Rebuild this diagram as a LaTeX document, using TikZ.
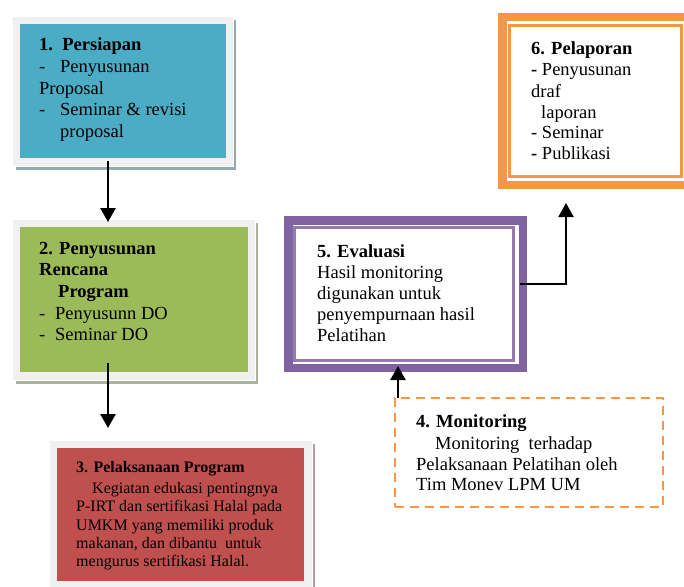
\documentclass[tikz,border=0pt]{standalone}
\usepackage{fontspec}
\setmainfont{Liberation Serif}
\usetikzlibrary{arrows.meta,calc}
\definecolor{cblue}{HTML}{4BACC6}
\definecolor{cgreen}{HTML}{9BBB59}
\definecolor{cred}{HTML}{C0504D}
\definecolor{cpurple}{HTML}{8064A2}
\definecolor{corange}{HTML}{F79646}
\definecolor{cframe}{HTML}{F0F0F0}
\definecolor{shblue}{HTML}{93AAB3}
\definecolor{shgreen}{HTML}{A9B49A}
\definecolor{shred}{HTML}{B49BA0}
\begin{document}
\begin{tikzpicture}[x=1pt,y=-1pt,
  frame/.style={draw=white, line width=0.8pt, fill=cframe, rectangle, inner sep=0pt, outer sep=0pt, anchor=north west},
  plain/.style={rectangle, inner sep=0pt, outer sep=0pt, anchor=north west},
  big/.style={anchor=base west, inner sep=0pt, font=\fontsize{18.5}{21}\selectfont},
  small/.style={anchor=base west, inner sep=0pt, font=\fontsize{16}{18.5}\selectfont},
  arr/.style={line width=2.5pt, -{Triangle[width=15pt,length=14pt]}},
  conn/.style={line width=2pt, -{Triangle[width=15pt,length=14pt]}}
]
\useasboundingbox (0,0) rectangle (684,586);

% ---- Box 1 ----
\fill[shblue] (16,20) rectangle (236,170);
\node[frame, minimum width=221pt, minimum height=150pt] (b1) at (12,16) {};
\fill[cblue] (20,24) rectangle (226,158);
\node[big] (t1a) at (39,51) {\textbf{1.\ \ Persiapan}};
\node[big] (t1b) at (39,72.5) {\makebox[21pt][l]{-}Penyusunan};
\node[big] (t1c) at (39,94) {Proposal};
\node[big] (t1d) at (39,115.5) {\makebox[21pt][l]{-}Seminar \& revisi};
\node[big] (t1e) at (60,137) {proposal};

% ---- Box 2 ----
\fill[shgreen] (16,223) rectangle (258,384);
\node[frame, minimum width=243pt, minimum height=161pt] (b2) at (12,219) {};
\fill[cgreen] (20,227) rectangle (248,372);
\node[big] (t2a) at (39,254) {\textbf{2. Penyusunan}};
\node[big] (t2b) at (39,275) {\textbf{Rencana}};
\node[big] (t2c) at (58,297) {\textbf{Program}};
\node[big] (t2d) at (39,319) {\makebox[16pt][l]{-}Penyusunn DO};
\node[big] (t2e) at (39,340) {\makebox[16pt][l]{-}Seminar DO};

% ---- Box 3 ----
\fill[shred] (53,444) rectangle (315,590);
\node[frame, minimum width=263pt, minimum height=150pt] (b3) at (49,440) {};
\fill[cred] (57,448) rectangle (304,581);
\node[small] (t3a) at (76,472.5) {\textbf{3. Pelaksanaan Program}};
\node[small] (t3b) at (92,493) {Kegiatan edukasi pentingnya};
\node[small] (t3c) at (76,511.5) {P-IRT dan sertifikasi Halal pada};
\node[small] (t3d) at (76,530) {UMKM yang memiliki produk};
\node[small] (t3e) at (76,548) {makanan, dan dibantu\ \ untuk};
\node[small] (t3f) at (76,566) {mengurus sertifikasi Halal.};

% ---- Box 5 ----
\node[plain, fill=white, minimum width=243pt, minimum height=156pt] (b5) at (284,216) {};
\draw[cpurple, line width=8.5pt] (288.25,220.25) rectangle (522.75,367.75);
\draw[cpurple!85, line width=2.5pt] (294.5,227.5) rectangle (513.5,360.5);
\node[big] (t5a) at (317,257) {\textbf{5. Evaluasi}};
\node[big] (t5b) at (317,278) {Hasil monitoring};
\node[big] (t5c) at (317,299) {digunakan untuk};
\node[big] (t5d) at (317,320) {penyempurnaan hasil};
\node[big] (t5e) at (317,341) {Pelatihan};

% ---- Box 4 ----
\node[plain, draw=corange, line width=2.5pt, dash pattern=on 9pt off 6pt,
      minimum width=268pt, minimum height=109pt] (b4) at (395,398) {};
\node[big] (t4a) at (416,427) {\textbf{4. Monitoring}};
\node[big] (t4b) at (435,449) {Monitoring\ \ terhadap};
\node[big] (t4c) at (416,470) {Pelaksanaan Pelatihan oleh};
\node[big] (t4d) at (416,490) {Tim Monev LPM UM};

% ---- Box 6 ----
\node[plain, fill=white, minimum width=186pt, minimum height=176pt] (b6) at (498,13) {};
\draw[corange, line width=8.5pt] (684,17.25) -- (502.25,17.25) -- (502.25,184.75) -- (684,184.75);
\draw[corange, line width=2.5pt] (509.5,25.5) rectangle (681.5,176.5);
\node[big] (t6a) at (531,54) {\textbf{6. Pelaporan}};
\node[big] (t6b) at (531,75) {\textbf{-} Penyusunan};
\node[big] (t6c) at (531,97) {draf};
\node[big] (t6d) at (541,118) {laporan};
\node[big] (t6e) at (531,138) {- Seminar};
\node[big] (t6f) at (531,159) {\textbf{-} Publikasi};

% ---- connectors ----
\coordinate (xa) at (108,0);
\coordinate (xb) at (398,0);
\coordinate (k6) at (566,203);
\draw[arr] ([yshift=5pt]b1.south -| xa) -- ([yshift=-3pt]b2.north -| xa);
\draw[arr] ([yshift=17pt]b2.south -| xa) -- ([yshift=12pt]b3.north -| xa);
\draw[arr] (b4.north -| xb) -- ([yshift=6pt]b5.south -| xb);
\draw[conn] ([yshift=10pt,xshift=-7pt]b5.east) -| (k6);
\end{tikzpicture}
\end{document}
